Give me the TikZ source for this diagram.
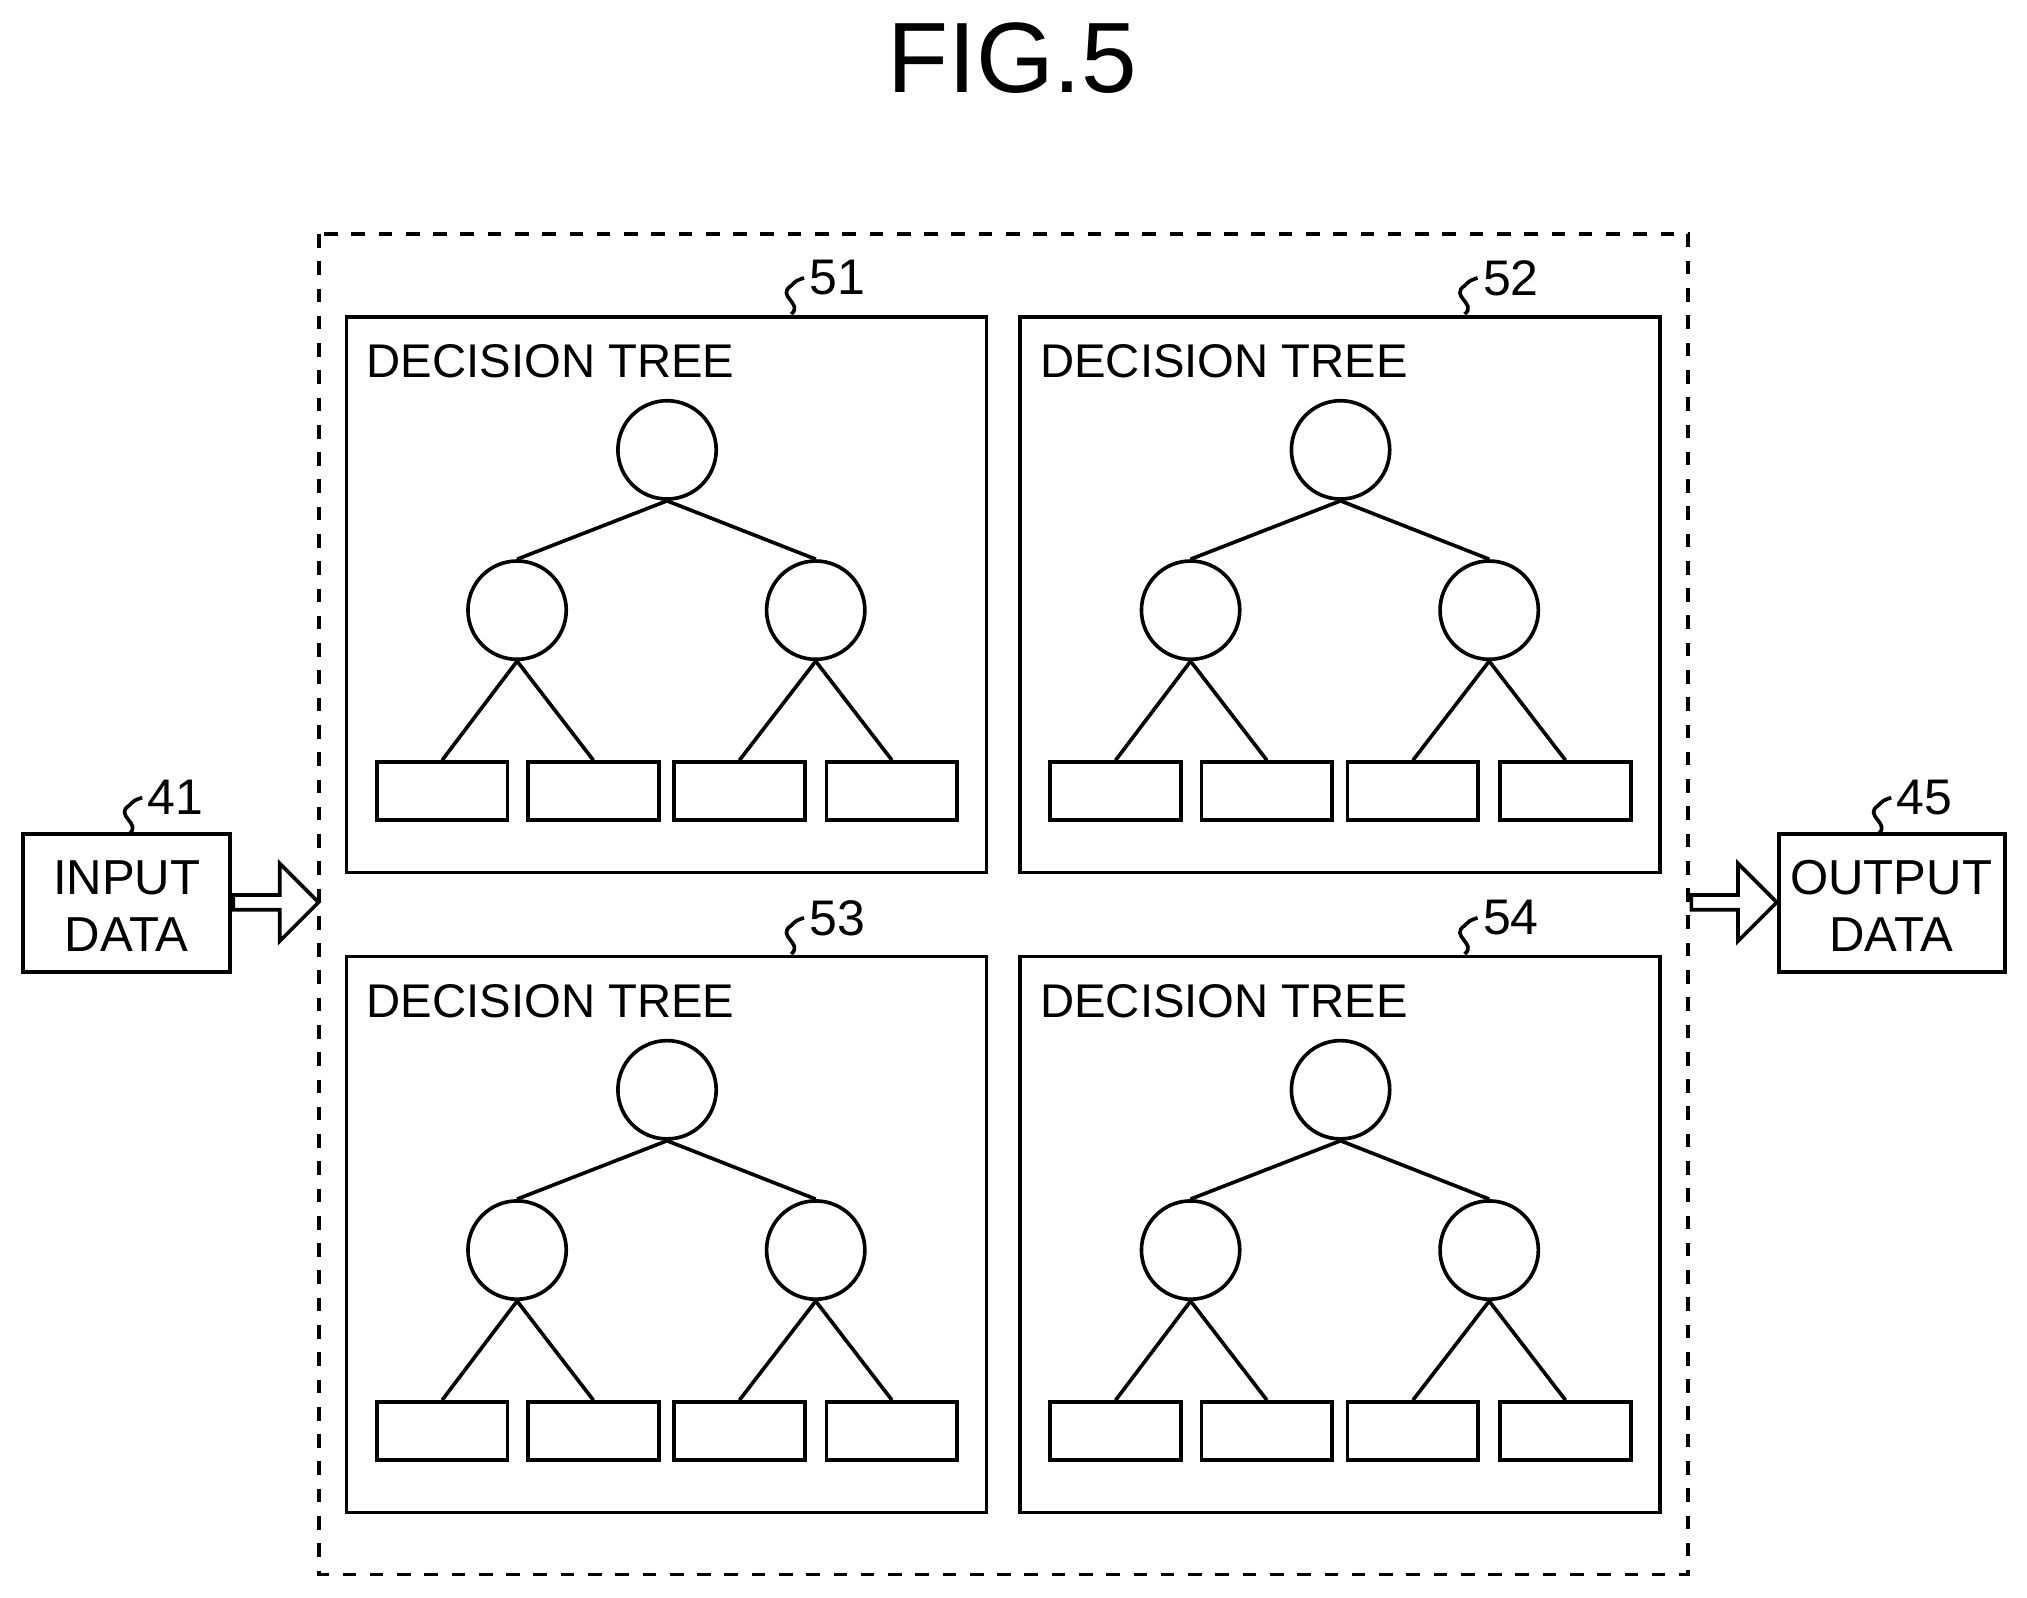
\documentclass[tikz,border=0pt]{standalone}
\usepackage{fontspec}
\setmainfont{Liberation Sans}
\usetikzlibrary{shapes.arrows}

\tikzset{
  tnode/.style={draw, circle, thick, minimum size=0.76cm, inner sep=0pt},
  leaf/.style={draw, thick, minimum width=1.01cm, minimum height=0.45cm, inner sep=0pt},
  tbox/.style={draw, thick},
  hollow/.style={draw, thick, single arrow, minimum height=0.66cm, minimum width=0.6cm,
    single arrow head extend=0.06cm, inner sep=0pt, shape border rotate=0},
  reflab/.style={font=\fontsize{11}{11}\selectfont, anchor=west, inner sep=1pt}
}
\newcommand{\callout}[3]{% x, y of squiggle bottom, label
  \draw[thick] (#1,#2) .. controls (#1+10,#2-8) and (#1-12,#2-14) .. (#1,#2-22)
    .. controls (#1+4,#2-26) .. (#1+10,#2-28);
  \node[reflab] at (#1+10,#2-28) {#3};
}

\begin{document}
\begin{tikzpicture}[x=0.01cm, y=-0.01cm]
\useasboundingbox (0,0) rectangle (1568,1236);
\node (title) at (783,45) {\fontsize{22}{22}\selectfont FIG.5};

% ensemble frame
\draw[thick, dashed] (247,181) rectangle (1306,1218);

% four decision trees
\foreach \n/\ox/\oy in {51/268/245, 52/789/245, 53/268/740, 54/789/740}{
  \begin{scope}[shift={(\ox,\oy)}]
    \draw[tbox] (0,0) rectangle (495,430);
    \node[anchor=base west, inner sep=0pt, font=\fontsize{10.4}{11}\selectfont] (dt\n) at (15,47) {DECISION TREE};
    \node[tnode] (r\n) at (248,103) {};
    \node[tnode] (a\n) at (132,227) {};
    \node[tnode] (b\n) at (363,227) {};
    \node[leaf] (l1\n) at (74,367) {};
    \node[leaf] (l2\n) at (191,367) {};
    \node[leaf] (l3\n) at (304,367) {};
    \node[leaf] (l4\n) at (422,367) {};
    \draw[thick] (r\n.south) -- (a\n.north);
    \draw[thick] (r\n.south) -- (b\n.north);
    \draw[thick] (a\n.south) -- (l1\n.north);
    \draw[thick] (a\n.south) -- (l2\n.north);
    \draw[thick] (b\n.south) -- (l3\n.north);
    \draw[thick] (b\n.south) -- (l4\n.north);
  \end{scope}
}
\callout{612}{243}{51}
\callout{1133}{243}{52}
\callout{612}{738}{53}
\callout{1133}{738}{54}

% input and output
\draw[tbox] (18,645) rectangle (178,752);
\node[align=center, font=\fontsize{10.8}{12.5}\selectfont] (in) at (98,701) {INPUT\\DATA};
\draw[tbox] (1376,645) rectangle (1551,752);
\node[align=center, font=\fontsize{10.8}{12.5}\selectfont] (out) at (1463,701) {OUTPUT\\DATA};
\callout{100}{645}{41}
\callout{1453}{645}{45}

\node[hollow, anchor=west] (ain) at (179,698) {};
\node[hollow, anchor=west] (aout) at (1307,698) {};
\end{tikzpicture}
\end{document}
